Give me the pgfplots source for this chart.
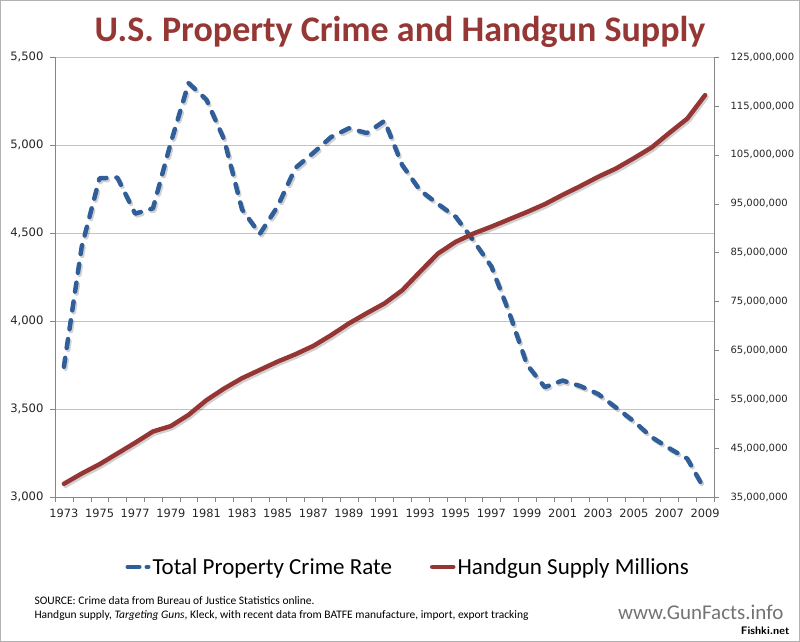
\documentclass[border=0pt]{standalone}
\usepackage{pgfplots}
\usepackage{pgfplotstable}
\pgfplotsset{compat=1.18}
\usepackage{fontspec}
\setmainfont{Carlito}
\newfontfamily\tickfont{DejaVu Sans}
\definecolor{crimeblue}{RGB}{47,94,152}
\definecolor{gunred}{RGB}{150,54,52}
\definecolor{titlered}{RGB}{149,55,53}
\definecolor{axisgray}{RGB}{134,134,134}
\definecolor{gridgray}{RGB}{195,195,195}

\pgfplotstableread{
year crime guns
1973 3740 37.7
1974 4422 39.8
1975 4811 41.7
1976 4815 43.9
1977 4610 46.1
1978 4640 48.4
1979 5012 49.5
1980 5352 51.8
1981 5258 54.8
1982 5030 57.2
1983 4634 59.3
1984 4495 61.0
1985 4651 62.7
1986 4870 64.2
1987 4955 65.9
1988 5045 68.1
1989 5095 70.5
1990 5068 72.6
1991 5137 74.6
1992 4885 77.3
1993 4742 81.1
1994 4665 84.8
1995 4592 87.2
1996 4456 88.9
1997 4310 90.3
1998 4048 91.8
1999 3752 93.3
2000 3624 94.9
2001 3662 96.8
2002 3630 98.6
2003 3585 100.5
2004 3508 102.2
2005 3430 104.3
2006 3340 106.5
2007 3276 109.5
2008 3218 112.4
2009 3038 117.2
}\datatable

\begin{document}
\begin{tikzpicture}[x=1pt,y=1pt]
\useasboundingbox (0pt,0pt) rectangle (800pt,-642pt);
\draw[gray!60, line width=1pt] (0.5pt,-0.5pt) rectangle (799.5pt,-641.5pt);
\node[font=\fontsize{36}{42}\selectfont\bfseries, text=titlered] at (400pt,-32pt) {U.S. Property Crime and Handgun Supply};

\begin{axis}[
  at={(55pt,-497pt)}, anchor=south west, scale only axis,
  width=659pt, height=440pt,
  xmin=1972.5, xmax=2009.5, ymin=3000, ymax=5500,
  axis y line*=left, axis x line*=bottom,
  x axis line style={-, draw=axisgray}, y axis line style={-, draw=axisgray},
  xtick={1973,1975,...,2009},
  xticklabels={1973,1975,1977,1979,1981,1983,1985,1987,1989,1991,1993,1995,1997,1999,2001,2003,2005,2007,2009},
  minor xtick={1972.5,1973.5,...,2009.5},
  major x tick style={draw=none},
  minor x tick style={draw=axisgray},
  minor tick length=5pt,
  ytick={3000,3500,4000,4500,5000,5500},
  yticklabels={{3,000},{3,500},{4,000},{4,500},{5,000},{5,500}},
  major y tick style={draw=axisgray},
  major tick length=5pt,
  tick align=outside,
  ymajorgrids, grid style={gridgray, line width=0.8pt},
  ticklabel style={text=black!85},
  xticklabel style={font=\tickfont\fontsize{11.4}{13}\selectfont, yshift=-3pt},
  yticklabel style={font=\tickfont\fontsize{11.6}{13}\selectfont, xshift=-3pt},
  clip=false,
]
\addplot[black, opacity=0.18, line width=4.5pt, dash pattern=on 9pt off 10pt, line cap=round, line join=round, transform canvas={shift={(1.5pt,-2pt)}}] table[x=year,y=crime]{\datatable};
\addplot[crimeblue, line width=4.5pt, dash pattern=on 9pt off 10pt, line cap=round, line join=round] table[x=year,y=crime]{\datatable};
\end{axis}

\begin{axis}[
  at={(55pt,-497pt)}, anchor=south west, scale only axis,
  width=659pt, height=440pt,
  xmin=1972.5, xmax=2009.5, ymin=35, ymax=125,
  axis y line*=right, axis x line=none,
  y axis line style={-, draw=axisgray},
  ytick={35,45,55,65,75,85,95,105,115,125},
  yticklabels={{35,000,000},{45,000,000},{55,000,000},{65,000,000},{75,000,000},{85,000,000},{95,000,000},{105,000,000},{115,000,000},{125,000,000}},
  major y tick style={draw=axisgray},
  major tick length=5pt,
  tick align=outside,
  yticklabel style={font=\tickfont\fontsize{10}{12}\selectfont, text=black!85, xshift=8pt},
  clip=false,
  legend columns=2,
  legend style={at={(0.536,-0.159)}, anchor=center, draw=none, fill=none,
    font=\fontsize{23}{27}\selectfont, /tikz/every even column/.append style={column sep=36pt}},
  legend image code/.code={\draw[#1] (0pt,0pt) -- (21pt,0pt);},
]
\addlegendimage{crimeblue, line width=4pt, dash pattern=on 12pt off 7pt, line cap=round}
\addlegendentry{Total Property Crime Rate}
\addplot[black, opacity=0.18, line width=4.5pt, line cap=round, line join=round, transform canvas={shift={(1.5pt,-2pt)}}, forget plot] table[x=year,y=guns]{\datatable};
\addplot[gunred, line width=4.5pt, line cap=round, line join=round] table[x=year,y=guns]{\datatable};
\addlegendentry{Handgun Supply Millions}
\end{axis}

\node[anchor=west, font=\fontsize{11.5}{13}\selectfont] at (31pt,-601pt) {SOURCE: Crime data from Bureau of Justice Statistics online.};
\node[anchor=west, font=\fontsize{11.5}{13}\selectfont] at (31pt,-615pt) {Handgun supply, \textit{Targeting Guns}, Kleck, with recent data from BATFE manufacture, import, export tracking};
\node[anchor=east, text=black!55, font=\fontsize{21}{24}\selectfont] at (787pt,-612pt) {www.GunFacts.info};
\node[anchor=east, font=\sffamily\bfseries\fontsize{11}{12}\selectfont] at (793pt,-631pt) {Fishki.net};
\end{tikzpicture}
\end{document}
